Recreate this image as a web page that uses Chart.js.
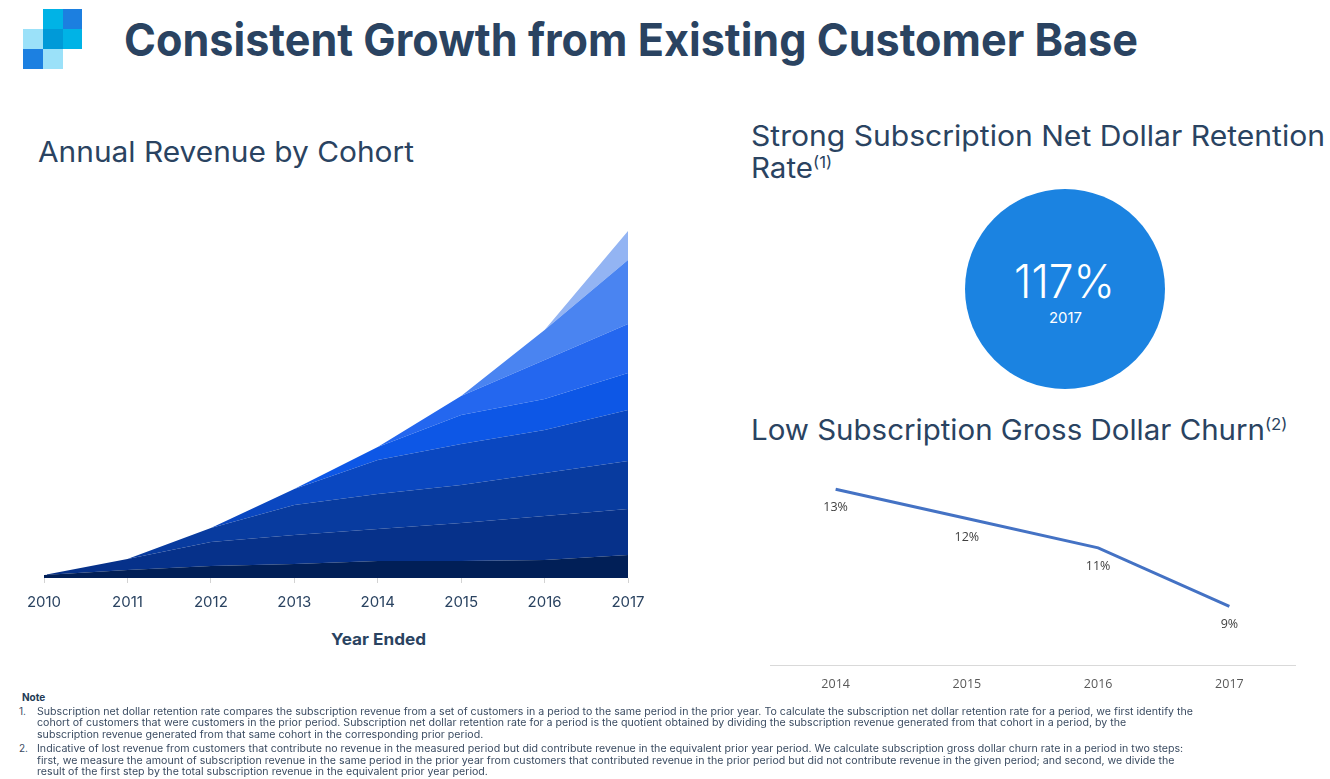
<!DOCTYPE html>
<html>
<head>
<meta charset="utf-8">
<script src="https://cdn.jsdelivr.net/npm/chart.js@4.4.1/dist/chart.umd.min.js"></script>
<style>
html,body{margin:0;padding:0;background:#ffffff;}
body{width:1330px;height:779px;position:relative;overflow:hidden;font-family:Inter,"Open Sans",sans-serif;color:#2a4361;}
.t{position:absolute;white-space:nowrap;line-height:1;transform-origin:0 50%;transform:translateY(-50%);}
.sq{position:absolute;width:20px;height:20px;}
sup{font-size:0.57em;vertical-align:0;position:relative;top:-0.62em;}
#cohort{position:absolute;left:0;top:200px;}
#churn{position:absolute;left:740px;top:440px;}
#circle{position:absolute;left:965px;top:189px;width:200px;height:200px;border-radius:50%;background:#1b83e1;}
.fn{font-size:10px;color:#3b4c62;}
</style>
</head>
<body>
<div class="sq" style="left:43px;top:9px;background:#00b3e6"></div>
<div class="sq" style="left:63px;top:9px;width:19px;background:#1c7fe0"></div>
<div class="sq" style="left:23px;top:29px;background:#9be1f9"></div>
<div class="sq" style="left:43px;top:29px;background:#009ad8"></div>
<div class="sq" style="left:63px;top:29px;width:19px;background:#00b3e6"></div>
<div class="sq" style="left:23px;top:49px;background:#1c80e1"></div>
<div class="sq" style="left:43px;top:49px;background:#9be1f9"></div>

<div id="title" class="t" style="left:124px;top:38.5px;font-size:45px;font-weight:700;color:#2a4361"><span>Consistent Growth from Existing Customer Base</span></div>
<div id="hLeft" class="t" style="left:38px;top:152px;font-size:28px;"><span>Annual Revenue by Cohort</span></div>
<div id="hR1" class="t" style="left:751px;top:135.5px;font-size:28px;"><span>Strong Subscription Net Dollar Retention</span></div>
<div id="hR2" class="t" style="left:751px;top:168px;font-size:28px;"><span>Rate</span><sup>(1)</sup></div>
<div id="hR3" class="t" style="left:751px;top:430px;font-size:28px;"><span>Low Subscription Gross Dollar Churn</span><sup>(2)</sup></div>
<div id="xTitle" class="t" style="left:331px;top:639px;font-size:16px;font-weight:700;"><span>Year Ended</span></div>

<div id="circle"></div>
<div id="kpiVal" class="t" style="left:1014px;top:280px;font-size:47px;font-weight:300;color:#ffffff"><span></span></div>
<div id="kpiYear" class="t" style="left:1049px;top:317px;font-size:15px;color:#ffffff"><span></span></div>

<canvas id="cohort" width="680" height="460"></canvas>
<canvas id="churn" width="590" height="270"></canvas>

<div id="fnNote" class="t fn" style="left:22px;top:697px;font-weight:700;color:#243a55">Note</div>
<div class="t fn" style="left:19px;top:710.5px;">1.</div>
<div id="fn1" class="t fn fl" style="left:37px;top:710.5px;"><span>Subscription net dollar retention rate compares the subscription revenue from a set of customers in a period to the same period in the prior year. To calculate the subscription net dollar retention rate for a period, we first identify the</span></div>
<div class="t fn fl" style="left:37px;top:722px;">cohort of customers that were customers in the prior period. Subscription net dollar retention rate for a period is the quotient obtained by dividing the subscription revenue generated from that cohort in a period, by the</div>
<div class="t fn fl" style="left:37px;top:734px;">subscription revenue generated from that same cohort in the corresponding prior period.</div>
<div class="t fn" style="left:19px;top:748px;">2.</div>
<div class="t fn fl" style="left:37px;top:748px;">Indicative of lost revenue from customers that contribute no revenue in the measured period but did contribute revenue in the equivalent prior year period. We calculate subscription gross dollar churn rate in a period in two steps:</div>
<div class="t fn fl" style="left:37px;top:759.5px;">first, we measure the amount of subscription revenue in the same period in the prior year from customers that contributed revenue in the prior period but did not contribute revenue in the given period; and second, we divide the</div>
<div class="t fn fl" style="left:37px;top:771px;">result of the first step by the total subscription revenue in the equivalent prior year period.</div>

<script>
// ---------- DATA ----------
const years = ['2010', '2011', '2012', '2013', '2014', '2015', '2016', '2017'];
const cohort2010 = [3, 8, 12, 14, 17, 17, 18, 23];
const cohort2011 = [0, 11, 24, 29, 32, 38, 44, 46];
const cohort2012 = [0, 0, 14, 30, 35, 38, 43, 48];
const cohort2013 = [0, 0, 0, 16, 34, 41, 43, 51];
const cohort2014 = [0, 0, 0, 0, 13, 29, 31, 37];
const cohort2015 = [0, 0, 0, 0, 0, 19, 39, 49];
const cohort2016 = [0, 0, 0, 0, 0, 0, 30, 64];
const cohort2017 = [0, 0, 0, 0, 0, 0, 0, 29];
const cohortNames = ['2010', '2011', '2012', '2013', '2014', '2015', '2016', '2017'];

const churnYears = ['2014', '2015', '2016', '2017'];
const churnRates = [13, 12, 11, 9];

const retentionRate = 117;
const retentionYear = '2017';

// ---------- STYLES ----------
const cohortColors = ['#011f57', '#06318a', '#083b9f', '#0a47c0', '#0d57e6', '#2467ef', '#4a84f1', '#93b4f3'];
const textColor = '#2a4361';

const cohortSeries = [cohort2010, cohort2011, cohort2012, cohort2013, cohort2014, cohort2015, cohort2016, cohort2017];
const stackMax = years.map((_, j) => cohortSeries.reduce((s, c) => s + c[j], 0));

document.querySelector('#kpiVal span').textContent = retentionRate + '%';
document.querySelector('#kpiYear span').textContent = retentionYear;

// ---------- TEXT FITTING ----------
function fitX(el, w) {
  el.style.transform = 'translateY(-50%)';
  const target = el.querySelector('span') || el;
  const r = target.getBoundingClientRect().width;
  const k = w / r;
  el.style.transform = 'translateY(-50%) scaleX(' + k + ')';
  return k;
}
function applyK(el, k) { el.style.transform = 'translateY(-50%) scaleX(' + k + ')'; }

fitX(document.getElementById('title'), 1014);
fitX(document.getElementById('hLeft'), 376);
fitX(document.getElementById('hR1'), 574);
fitX(document.getElementById('hR2'), 62);
fitX(document.getElementById('hR3'), 514);
fitX(document.getElementById('xTitle'), 95);
fitX(document.getElementById('kpiVal'), 101);
fitX(document.getElementById('kpiYear'), 33);
const kF = fitX(document.getElementById('fn1'), 1156);
document.querySelectorAll('.fl').forEach(el => applyK(el, kF));

// ---------- COHORT CHART ----------
new Chart(document.getElementById('cohort'), {
  type: 'line',
  data: {
    labels: years,
    datasets: cohortSeries.map((d, i) => ({
      label: cohortNames[i],
      data: d,
      backgroundColor: cohortColors[i],
      borderColor: 'rgba(0,0,0,0)',
      borderWidth: 0,
      pointRadius: 0,
      pointHoverRadius: 0,
      tension: 0,
      fill: i === 0 ? 'origin' : '-1'
    }))
  },
  options: {
    responsive: false,
    animation: false,
    layout: { padding: { left: 44, right: 52, top: 31, bottom: 39 } },
    plugins: { legend: { display: false }, tooltip: { enabled: false } },
    scales: {
      x: {
        offset: false,
        grid: { display: true, drawOnChartArea: false, drawTicks: true, tickLength: 5, color: '#d3d3d3' },
        border: { display: false },
        ticks: { padding: 10, color: textColor, font: { family: 'Inter', size: 15 }, maxRotation: 0, autoSkip: false }
      },
      y: { display: false, stacked: true, min: 0, max: Math.max(...stackMax) }
    }
  }
});

// ---------- CHURN CHART ----------
const pointLabels = {
  id: 'pointLabels',
  afterDatasetsDraw(chart) {
    const ctx = chart.ctx;
    const meta = chart.getDatasetMeta(0);
    ctx.save();
    ctx.font = '12.5px "Open Sans"';
    ctx.fillStyle = '#404040';
    ctx.textAlign = 'center';
    ctx.textBaseline = 'middle';
    meta.data.forEach((pt, i) => ctx.fillText(churnRates[i] + '%', pt.x, pt.y + 18.5));
    ctx.restore();
  }
};

new Chart(document.getElementById('churn'), {
  type: 'line',
  data: {
    labels: churnYears,
    datasets: [{
      label: 'Gross Dollar Churn',
      data: churnRates,
      borderColor: '#4472c4',
      borderWidth: 3,
      pointRadius: 0,
      pointHoverRadius: 0,
      tension: 0,
      fill: false
    }]
  },
  options: {
    responsive: false,
    animation: false,
    layout: { padding: { left: 30, right: 35, top: 20, bottom: 7 } },
    plugins: { legend: { display: false }, tooltip: { enabled: false } },
    scales: {
      x: {
        offset: true,
        grid: { display: false, drawTicks: false },
        border: { display: true, color: '#d9d9d9', width: 1 },
        ticks: { padding: 11.5, color: '#595959', font: { family: 'Open Sans', size: 12.5 } }
      },
      y: { display: false, min: 7, max: 14 }
    }
  },
  plugins: [pointLabels]
});
</script>
</body>
</html>
